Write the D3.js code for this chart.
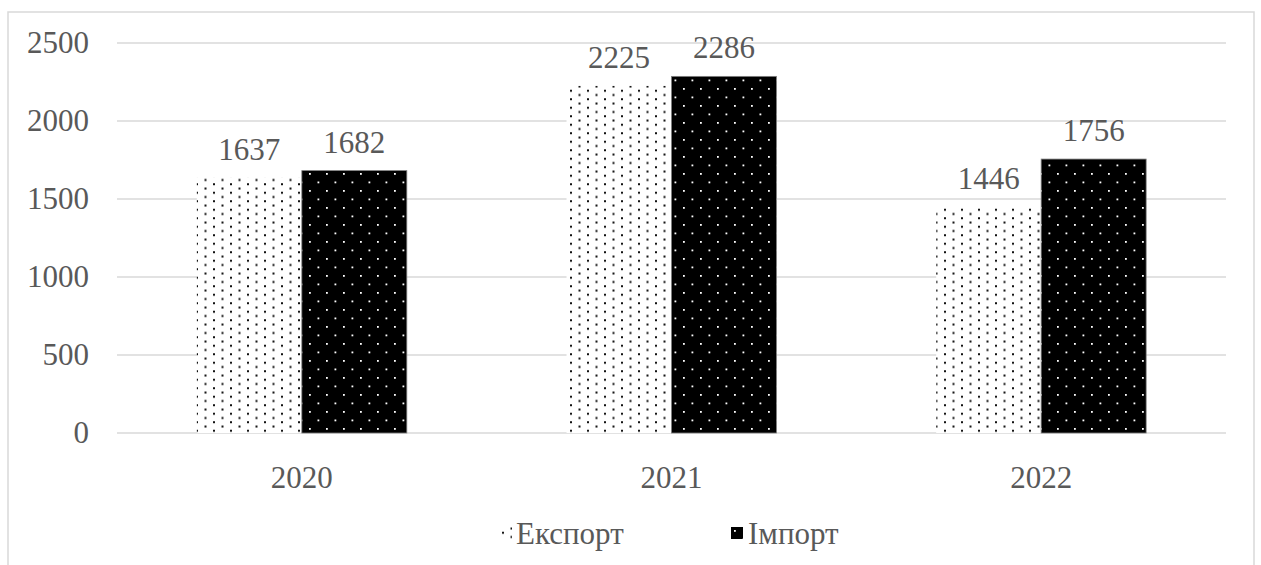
<!DOCTYPE html>
<html>
<head>
<meta charset="utf-8">
<script src="https://cdn.jsdelivr.net/npm/d3@7"></script>
</head>
<body style="margin:0;background:#fff">
<svg id="chart" width="1261" height="565"></svg>
<script>
// Trade volumes by year
const years = ["2020", "2021", "2022"];
const seriesNames = ["Експорт", "Імпорт"];
const exportValues = [1637, 2225, 1446];
const importValues = [1682, 2286, 1756];
const yTicks = [0, 500, 1000, 1500, 2000, 2500];

const FONT = '"Liberation Serif"';
const TEXT_COLOR = "#595959";
const svg = d3.select("#chart");
const plot = { left: 117, right: 1226, top: 43, bottom: 433 };

// Fill patterns: dotted white for export, black with white dots for import
const defs = svg.append("defs");
const pExp = defs.append("pattern")
  .attr("id", "patExport").attr("patternUnits", "userSpaceOnUse")
  .attr("width", 17).attr("height", 8.5);
pExp.append("rect").attr("width", 17).attr("height", 8.5).attr("fill", "#fff");
pExp.append("rect").attr("x", 0.5).attr("y", 0.5).attr("width", 2).attr("height", 2).attr("fill", "#111");
pExp.append("rect").attr("x", 9).attr("y", 4.75).attr("width", 2).attr("height", 2).attr("fill", "#111");

const pImp = defs.append("pattern")
  .attr("id", "patImport").attr("patternUnits", "userSpaceOnUse")
  .attr("width", 17).attr("height", 17);
pImp.append("rect").attr("width", 17).attr("height", 17).attr("fill", "#000");
pImp.append("rect").attr("x", 3).attr("y", 3).attr("width", 1.8).attr("height", 1.8).attr("fill", "#fff");
pImp.append("rect").attr("x", 11.5).attr("y", 11.5).attr("width", 1.8).attr("height", 1.8).attr("fill", "#fff");

const fills = ["url(#patExport)", "url(#patImport)"];

// Outer frame
svg.append("rect")
  .attr("x", 8).attr("y", 12).attr("width", 1246).attr("height", 580)
  .attr("fill", "none").attr("stroke", "#d9d9d9").attr("stroke-width", 1.5);

const y = d3.scaleLinear().domain([0, 2500]).range([plot.bottom, plot.top]);
const x0 = d3.scaleBand().domain(years).range([plot.left, plot.right])
  .paddingInner(0.432).paddingOuter(0.216);
const x1 = d3.scaleBand().domain(seriesNames).range([0, x0.bandwidth()]);

// All labels share one typeface, size and colour
function addLabel(x, yPos, str, anchor) {
  return svg.append("text")
    .attr("x", x).attr("y", yPos)
    .attr("text-anchor", anchor)
    .style("font-family", FONT).style("font-size", "31px").style("fill", TEXT_COLOR)
    .text(str);
}

// Gridlines
yTicks.forEach(t => {
  svg.append("line")
    .attr("x1", plot.left).attr("x2", plot.right)
    .attr("y1", y(t)).attr("y2", y(t))
    .attr("stroke", "#d9d9d9").attr("stroke-width", 1.3);
});

// Bars
years.forEach((yr, i) => {
  [exportValues[i], importValues[i]].forEach((v, j) => {
    svg.append("rect")
      .attr("x", x0(yr) + x1(seriesNames[j]))
      .attr("y", y(v))
      .attr("width", x1.bandwidth())
      .attr("height", y(0) - y(v))
      .attr("fill", fills[j])
      .attr("stroke", j === 1 ? "#7f7f7f" : "none")
      .attr("stroke-width", 0.8);
  });
});

// Y tick labels
yTicks.forEach(t => addLabel(plot.left - 28, y(t) + 10, d3.format("d")(t), "end"));

// Category labels
years.forEach(yr => addLabel(x0(yr) + x0.bandwidth() / 2, plot.bottom + 55, yr, "middle"));

// Value labels
years.forEach((yr, i) => {
  [exportValues[i], importValues[i]].forEach((v, j) => {
    addLabel(x0(yr) + x1(seriesNames[j]) + x1.bandwidth() / 2, y(v) - 18, String(v), "middle");
  });
});

// Legend
const legendItems = [
  { j: 0, sx: 500, tx: 516 },
  { j: 1, sx: 731, tx: 748 }
];
legendItems.forEach(it => {
  svg.append("rect").attr("x", it.sx).attr("y", 527).attr("width", 12).attr("height", 12)
    .attr("fill", fills[it.j]);
  addLabel(it.tx, 544, seriesNames[it.j], "start");
});
</script>
</body>
</html>
